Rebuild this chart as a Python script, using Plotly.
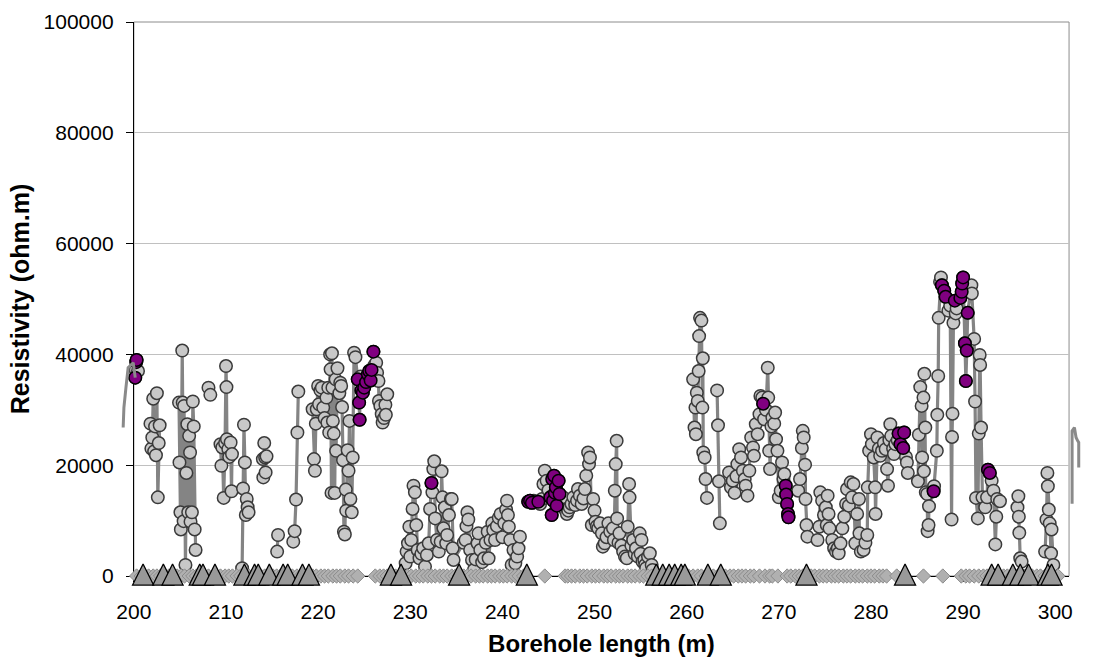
import plotly.graph_objects as go

# ---------------- data ----------------
# borehole length (m) and resistivity (kohm.m); None = gap in the measured series
grey_x = [
    200.15, 200.2, 200.3, 200.45, None,
    201.8, 201.9, 202.0, 202.1, 202.2, 202.3, 202.4, 202.5, 202.6, 202.7, 202.8, None,
    204.9, 204.95, 205.05, 205.1, 205.25, 205.3, 205.4, 205.45, 205.6, 205.7, 205.8, 205.9, 206.0,
    206.1, 206.15, 206.3, 206.4, 206.5, 206.6, 206.7, None,
    208.1, 208.3, None,
    209.4, 209.5, 209.6, 209.75, 209.9, 210.0, 210.05, 210.1, 210.25, 210.35, 210.5, 210.6, 210.65, None,
    211.75, 211.85, 211.95, 212.05, 212.15, 212.25, 212.35, 212.45, None,
    214.0, 214.05, 214.15, 214.25, 214.3, 214.4, None,
    215.55, 215.65, None,
    217.3, 217.45, 217.6, 217.75, 217.85, None,
    219.4, 219.55, 219.65, 219.75, 219.85, 220.0, 220.1, 220.25, 220.4, 220.55, 220.7, 220.9, 221.0,
    221.1, 221.2, 221.3, 221.35, 221.45, 221.5, 221.55, 221.6, 221.7, 221.8, 221.9, 221.95, 222.1,
    222.3, 222.4, 222.5, 222.6, 222.7, 222.8, 222.9, 223.0, 223.05, 223.2, 223.3, 223.4, 223.5,
    223.65, 223.75, 223.9, 224.05, 224.3, 224.45, 224.5, 224.6, 224.7, 224.85, 225.0, 225.2, 225.4,
    225.55, 225.7, 225.8, 226.0, 226.1, 226.3, 226.4, 226.55, 226.6, 226.75, 226.9, 227.0, 227.15,
    227.3, 227.35, 227.5, None,
    229.5, 229.6, 229.75, 229.9, 230.0, 230.1, 230.25, 230.35, 230.5, 230.65, 230.8, 231.0, 231.2,
    231.4, 231.6, 231.8, 232.0, 232.15, 232.3, 232.4, 232.5, 232.6, 232.7, 232.9, 233.1, 233.3,
    233.4, 233.5, 233.6, 233.75, 233.9, 234.0, 234.2, 234.4, 234.5, 234.6, 234.7,
    235.8, 236.0, 236.1, 236.2, 236.3, 236.5, 236.7, 236.9, 237.1, 237.3, 237.4, 237.6, 237.8,
    238.0, 238.2, 238.4, 238.5, 238.7, 238.9, 239.0, 239.2, 239.4, 239.6, 239.8, 240.0, 240.2,
    240.4, 240.5, 240.6, 240.7, 240.85, 241.0, 241.2, 241.4, 241.6, 241.75, 241.9, None,
    242.8, 243.0, 243.2, 243.4, 243.6, 243.9, 244.1, 244.3, 244.45, 244.6, 244.8, 245.0, 245.2,
    245.35, 245.5, 245.6, 245.8, 245.9, 246.1, 246.2, 246.4, 246.6, 246.8, 247.0, 247.15, 247.3,
    247.5, 247.7, 247.9, 248.1, 248.2, 248.4, 248.6, 248.8, 248.95, 249.1, 249.3, 249.4, 249.5,
    249.7, 249.85, 250.0, 250.1, 250.25, 250.4, 250.6, 250.8, 250.9, 251.1, 251.3, 251.5, 251.7,
    252.0, 252.1, 252.2, 252.3, 252.4, 252.45, 252.6, 252.7, 252.9, 253.1, 253.3, 253.5, 253.6,
    253.75, 253.8, 254.0, 254.2, 254.35, 254.5, 254.7, 254.9, 255.0, 255.1, 255.2, 255.4, 255.5,
    255.6, 255.8, 256.0, 256.2, 256.3, None,
    260.7, 260.85, 260.95, 261.0, 261.1, 261.2, 261.3, 261.35, 261.45, 261.6, 261.7, 261.75, 261.8,
    261.95, 262.05, 262.2, None,
    263.3, 263.4, 263.5, 263.6, None,
    264.6, 264.8, 265.0, 265.2, 265.4, 265.5, 265.7, 265.9, 266.1, 266.3, 266.4, 266.6, 266.8,
    267.0, 267.2, 267.3, 267.5, 267.7, 267.9, 268.0, 268.2, 268.3, 268.4, 268.6, 268.8, 268.85,
    268.95, 269.05, 269.2, 269.3, 269.5, 269.6, 269.7, 269.85, 270.0, 270.2, 270.35, 270.5, 270.6,
    270.75, 270.8, 270.9, 271.0, 271.05, None,
    272.1, 272.3, 272.5, 272.6, 272.7, 272.85, 272.9, 273.0, 273.1, None,
    274.2, 274.4, 274.5, 274.7, 274.9, 275.1, 275.2, 275.3, 275.4, 275.5, 275.8, 276.0, 276.2,
    276.4, 276.5, 276.7, 276.9, 277.1, 277.3, 277.4, 277.6, 277.8, 277.95, 278.1, 278.3, 278.5,
    278.7, 278.75, 278.9, 279.2, 279.4, 279.6, 279.65, 279.8, 280.0, 280.1, 280.3, 280.45, 280.5,
    280.7, 280.85, 281.0, 281.2, 281.4, 281.6, 281.75, 281.85, 282.0, 282.1, 282.2, 282.4, 282.5,
    282.65, 282.9, 283.0, 283.2, 283.5, 283.6, 283.8, 283.9, 284.0, None,
    285.1, 285.2, 285.35, 285.5, 285.55, 285.7, 285.75, 285.8, 285.9, 285.95, 286.1, 286.15, 286.25,
    286.3, 286.8, 286.85, 287.15, 287.2, 287.3, 287.35, 287.5, 287.6, 287.7, 287.95, 288.1, 288.4,
    288.6, 288.75, 288.8, 288.85, 288.95, 289.1, 289.2, 289.3, 289.7, 289.85, 289.9, 290.0, 290.2,
    290.3, 290.4, 290.5, 290.9, 290.95, 291.2, 291.3, 291.4, 291.6, 291.7, 291.8, 291.85, 291.95,
    292.1, 292.4, 292.6, 292.7, 292.9, 293.1, 293.3, 293.5, 293.6, 293.7, 294.0, None,
    295.9, 296.0, 296.05, 296.1, 296.2, 296.35, None,
    298.9, 299.05, 299.15, 299.2, 299.3, 299.4, 299.55, 299.6, 299.8,
]
grey_y_k = [
    35.8, 37.2, 39.0, 37.0, None,
    27.5, 23.0, 25.0, 32.0, 22.5, 27.0, 21.8, 33.0, 14.2, 24.0, 27.2, None,
    31.3, 20.5, 11.5, 8.4, 40.7, 31.3, 9.9, 30.7, 2.0, 18.6, 27.4, 11.5, 25.3,
    22.3, 9.8, 11.5, 31.5, 27.0, 8.4, 4.7, None,
    34.0, 32.7, None,
    23.8, 19.9, 23.2, 14.1, 24.0, 37.9, 34.1, 24.7, 22.9, 21.5, 24.1, 15.3, 22.0, None,
    1.4, 15.8, 27.3, 20.5, 11.0, 13.9, 12.4, 11.5, None,
    21.1, 17.8, 24.0, 21.4, 18.7, 21.6, None,
    4.4, 7.4, None,
    6.2, 8.1, 13.8, 25.9, 33.3, None,
    30.1, 21.1, 19.0, 27.5, 30.1, 34.3, 31.0, 33.5, 34.0, 30.4, 28.5, 32.2, 27.7,
    34.0, 25.9, 40.0, 37.3, 15.0, 40.2, 34.0, 28.0, 25.7, 15.0, 35.5, 22.6, 37.5,
    33.0, 34.9, 34.3, 30.5, 20.9, 8.0, 7.5, 15.6, 11.8, 22.7, 19.0, 28.0, 13.9,
    11.5, 21.4, 40.3, 39.5, 35.5, 31.3, 28.2, 36.0, 33.5, 33.1, 34.0, 35.0, 36.4,
    37.0, 35.3, 37.2, 40.5, 38.0, 38.5, 36.7, 35.2, 31.6, 30.7, 29.2, 27.7, 28.5,
    30.9, 29.1, 32.8, None,
    2.3, 4.4, 5.9, 8.9, 3.5, 6.5, 12.1, 16.3, 15.1, 9.2, 4.7, 3.2, 4.0,
    5.0, 1.7, 3.8, 5.9, 12.1, 16.8, 15.1, 19.3, 20.7, 10.4, 6.5, 4.4, 6.2,
    18.9, 14.2, 8.6, 12.4, 5.9, 7.4, 11.0, 13.9, 13.9, 5.0, 2.9,
    6.0, 6.5, 9.0, 11.5, 10.2, 4.7, 2.9, 1.1, 3.0, 5.9, 7.7, 4.7, 2.5,
    3.2, 6.0, 8.0, 3.2, 6.5, 9.5, 8.3, 6.5, 9.0, 10.5, 11.2, 7.0, 9.5,
    12.0, 13.6, 11.0, 8.9, 6.5, 2.0, 4.7, 2.3, 3.5, 5.0, 7.1, None,
    13.4, 13.6, 13.2, 13.6, 13.4, 13.4, 13.0, 13.9, 16.6, 19.0, 17.2, 15.5, 14.2,
    11.0, 13.6, 18.1, 16.0, 12.7, 17.2, 14.8, 13.0, 14.2, 12.0, 11.2, 11.8, 12.4,
    13.0, 14.2, 12.8, 13.6, 15.7, 14.5, 13.0, 14.0, 15.7, 18.1, 22.3, 20.2, 21.4,
    9.2, 13.9, 11.8, 9.8, 9.0, 8.6, 9.5, 7.7, 5.3, 5.9, 7.0, 9.5, 8.0,
    8.6, 6.5, 15.4, 20.2, 24.4, 10.4, 6.0, 7.7, 5.5, 4.4, 3.5, 3.2, 8.9,
    16.6, 14.2, 5.5, 6.5, 4.0, 5.0, 3.5, 7.7, 4.0, 6.5, 2.6, 2.9, 2.0,
    1.4, 3.5, 4.1, 2.0, 1.1, None,
    35.5, 26.8, 30.4, 25.6, 33.1, 31.6, 37.0, 43.3, 46.6, 46.1, 30.4, 39.3, 22.3,
    21.4, 17.5, 14.1, None,
    33.5, 27.2, 17.1, 9.5, None,
    18.7, 16.0, 17.2, 15.0, 18.0, 20.2, 22.9, 21.4, 19.0, 17.5, 16.3, 14.5, 19.0,
    25.0, 23.2, 21.7, 27.4, 25.6, 29.2, 32.5, 32.2, 31.1, 28.3, 30.0, 37.6, 32.2,
    22.6, 19.3, 27.0, 28.6, 27.5, 29.5, 24.7, 22.6, 14.2, 15.4, 20.5, 17.5, 18.4,
    16.3, 14.7, 13.0, 11.2, 10.6, None,
    15.4, 17.5, 23.1, 26.2, 25.0, 20.1, 13.9, 9.2, 7.1, None,
    6.5, 8.9, 15.1, 13.6, 11.0, 12.4, 9.2, 14.5, 11.2, 8.6, 6.5, 5.0, 4.4,
    5.0, 4.1, 5.9, 8.6, 10.7, 13.0, 15.7, 12.7, 16.9, 14.2, 16.6, 5.9, 11.2,
    13.9, 7.7, 4.4, 4.7, 6.0, 7.4, 16.0, 22.6, 25.6, 23.8, 21.4, 16.0, 11.2,
    25.0, 23.0, 21.7, 22.6, 24.0, 22.9, 19.3, 16.3, 24.5, 27.4, 25.3, 23.0, 22.0,
    23.8, 24.5, 25.7, 23.8, 23.1, 25.9, 21.5, 20.5, 18.6, None,
    17.1, 25.5, 34.1, 30.7, 21.4, 32.2, 18.9, 36.5, 26.8, 15.1, 14.8, 8.1, 9.2,
    12.6, 15.3, 16.2, 22.6, 29.1, 36.1, 46.6, 53.1, 53.9, 52.5, 51.5, 50.4, 47.9,
    48.8, 10.2, 25.1, 29.3, 45.7, 49.7, 47.4, 48.3, 50.2, 51.3, 52.8, 53.9, 42.0,
    35.2, 40.7, 47.5, 52.5, 51.0, 42.8, 31.5, 14.1, 10.4, 25.7, 39.9, 38.1, 26.8,
    14.2, 12.4, 14.2, 19.2, 18.6, 17.2, 15.4, 5.7, 10.7, 13.9, 13.5, None,
    12.4, 14.4, 10.7, 7.8, 3.2, 2.6, None,
    4.4, 10.2, 18.6, 16.2, 12.0, 9.5, 4.1, 8.4, 2.0,
]

# highlighted (purple) readings
purple_x = [200.15, 200.25, 200.3,
            224.3, 224.45, 224.5, 224.7, 224.85, 225.0, 225.2, 225.4, 225.55, 225.7, 225.8, 226.0,
            232.3,
            242.8, 243.0, 243.2, 243.9,
            245.2, 245.35, 245.4, 245.5, 245.6, 245.7, 245.8, 245.9, 246.1, 246.2,
            268.3,
            270.75, 270.8, 270.9, 271.0, 271.05,
            283.0, 283.2, 283.5, 283.6,
            286.8,
            287.7, 287.95, 288.1, 289.1, 289.7, 289.85, 289.9, 290.0, 290.2, 290.3, 290.4, 290.5,
            292.7, 292.9]
purple_y_k = [35.8, 38.6, 39.0,
              35.5, 31.3, 28.2, 33.5, 33.1, 34.0, 35.0, 36.4, 37.0, 35.3, 37.2, 40.5,
              16.8,
              13.4, 13.6, 13.2, 13.4,
              14.2, 11.0, 17.5, 13.6, 18.1, 15.0, 16.0, 12.7, 17.2, 14.8,
              31.1,
              16.3, 14.7, 13.0, 11.2, 10.6,
              25.7, 23.8, 23.1, 25.9,
              15.3,
              52.5, 51.5, 50.4, 49.7, 50.2, 51.3, 52.8, 53.9, 42.0, 35.2, 40.7, 47.5,
              19.2, 18.6]

# parts of the logged curve lying just outside the plotted depth window
edge_left_x = [198.84, 198.92, 199.14, 199.38, 199.93, 200.15]
edge_left_y_k = [26.8, 30.4, 34.0, 37.6, 38.5, 35.8]
edge_right_x = [301.83, 301.83, 302.08, 302.26, 302.44, 302.55, 302.55]
edge_right_y_k = [13.05, 26.2, 26.8, 25.0, 24.4, 24.1, 19.6]

# sample positions along the borehole (zero-resistivity markers)
diamond_x = [
    199.9, 200.3, 200.8, 201.2, 201.6, 202.1, 202.5, 202.9, 203.4, 203.8, 204.2, 204.7, 205.1,
    205.5, 206.0, 206.4, 206.8, 207.3, 207.7, 208.1, 208.6, 209.0, 209.4, 209.9, 210.3, 210.7,
    211.2, 211.6, 212.0, 212.5, 212.9, 213.3, 213.8, 214.2, 214.6, 215.1, 215.5, 215.9, 216.4,
    216.8, 217.2, 217.7, 218.1, 218.5, 219.0, 219.4, 219.8, 220.3, 220.7, 221.1, 221.6, 222.0,
    222.4, 222.9, 223.3, 223.8, 224.3,
    226.2, 226.7, 227.1, 227.5, 228.0, 228.4, 228.8, 229.3, 229.7, 230.1, 230.6, 231.0, 231.4,
    231.9, 232.3, 232.7, 233.2, 233.6, 234.0, 234.5, 234.9, 235.3, 235.8, 236.2, 236.6, 237.1,
    237.5, 237.9, 238.4, 238.8, 239.2, 239.7, 240.1, 240.5, 241.0, 241.4, 241.8, 242.3,
    244.6,
    246.8, 247.1, 247.5, 247.9, 248.4, 248.8, 249.2, 249.7, 250.1, 250.5, 251.0, 251.4, 251.8,
    252.3, 252.7, 253.1, 253.6, 254.0, 254.4, 254.9, 255.3, 255.8,
    256.2, 256.7, 257.1, 257.6, 258.0, 258.4, 258.9, 259.3, 259.8, 260.2, 260.7,
    261.2, 261.6, 262.1, 262.5, 262.9, 263.4, 263.8, 264.2, 264.7, 265.1, 265.6, 266.0, 266.4,
    266.9, 267.3, 267.9, 268.5, 269.0, 269.3, 269.9,
    270.9, 271.3, 271.8, 272.2, 272.6, 273.1, 273.5, 273.9, 274.4, 274.8, 275.2, 275.7, 276.1,
    276.5, 277.0, 277.4, 277.8, 278.3, 278.7, 279.1, 279.6, 280.0, 280.4, 280.9, 281.3, 281.7,
    282.8, 285.7, 287.8,
    289.8, 290.3, 290.7, 291.2, 291.7, 292.2,
    292.6, 293.0, 293.5, 293.9, 294.4, 294.8, 295.3, 295.7, 296.2, 296.6, 297.1, 297.5, 298.0,
    298.4, 298.9, 299.3, 299.8, 300.3,
]
diamond_y = [0] * len(diamond_x)

# fracture / event positions (triangles)
triangle_x = [201.0, 203.2, 204.2, 207.15, 207.5, 208.8, 212.0, 213.1, 213.5, 214.7, 216.2, 216.7,
              218.3, 219.0, 227.9, 229.0, 235.3, 242.65,
              256.7, 257.4, 258.1, 258.7, 259.4, 259.8, 262.3, 263.7, 273.0, 283.7,
              293.1, 293.8, 295.4, 296.2, 297.1, 299.2, 299.6]
triangle_y = [0] * len(triangle_x)

x_ticks = [200, 210, 220, 230, 240, 250, 260, 270, 280, 290, 300]
y_ticks = [0, 20000, 40000, 60000, 80000, 100000]

# ---------------- layout constants ----------------
W, H = 1096, 666
ML, MR, MT, MB = 100, 10, 19, 90
PLOT_L, PLOT_R = 134, 1073
X_MIN, X_MAX = 200, 301.5
Y_MIN, Y_MAX = 0, 100000
paper_w = W - ML - MR
dom0 = (PLOT_L - ML) / paper_w
dom1 = (PLOT_R - ML) / paper_w
pxm = (PLOT_R - PLOT_L) / (X_MAX - X_MIN)
x2_range = [X_MIN - (PLOT_L - ML) / pxm, X_MAX + (W - MR - PLOT_R) / pxm]
plot_h = H - MT - MB
tri_shift = 12 * (Y_MAX - Y_MIN) / plot_h  # triangles: apex above the zero line

FONT = "Liberation Sans, Arial, sans-serif"

def k(v):
    return [None if a is None else a * 1000 for a in v]

fig = go.Figure()

fig.add_trace(go.Scatter(
    x=edge_left_x, y=k(edge_left_y_k), xaxis="x2", yaxis="y2", mode="lines",
    line=dict(color="#8a8a8a", width=3), hoverinfo="skip", showlegend=False))
fig.add_trace(go.Scatter(
    x=edge_right_x, y=k(edge_right_y_k), xaxis="x2", yaxis="y2", mode="lines",
    line=dict(color="#8a8a8a", width=3), hoverinfo="skip", showlegend=False))

fig.add_trace(go.Scatter(
    x=grey_x, y=k(grey_y_k), mode="lines+markers", connectgaps=False,
    line=dict(color="#848484", width=3.2),
    marker=dict(symbol="circle", size=12.5, color="#c8c8c8", line=dict(color="#3a3a3a", width=1.5)),
    cliponaxis=False, showlegend=False))

fig.add_trace(go.Scatter(
    x=purple_x, y=k(purple_y_k), mode="markers",
    marker=dict(symbol="circle", size=12.5, color="#800080", line=dict(color="#000000", width=1.5)),
    cliponaxis=False, showlegend=False))

fig.add_trace(go.Scatter(
    x=diamond_x, y=diamond_y, mode="markers",
    marker=dict(symbol="diamond", size=11, color="#b0b0b0", line=dict(color="#8c8c8c", width=1)),
    cliponaxis=False, showlegend=False))

fig.add_trace(go.Scatter(
    x=triangle_x, y=triangle_y, mode="markers", yaxis="y3",
    marker=dict(symbol="arrow-up", size=21, color="#999999", line=dict(color="#000000", width=1.3)),
    cliponaxis=False, showlegend=False))

fig.add_shape(type="rect", xref="x domain", yref="y domain", x0=0, x1=1, y0=0, y1=1,
              line=dict(color="#8c8c8c", width=1), layer="below")

fig.update_layout(
    width=W, height=H,
    margin=dict(l=ML, r=MR, t=MT, b=MB, pad=0),
    paper_bgcolor="white", plot_bgcolor="rgba(0,0,0,0)",
    font=dict(family=FONT, color="black", size=21),
    xaxis=dict(domain=[dom0, dom1], range=[X_MIN, X_MAX], tickvals=x_ticks,
               showgrid=False, zeroline=False, showline=True, linecolor="black", linewidth=1,
               ticks="outside", ticklen=5, tickcolor="black", tickfont=dict(size=21),
               ticklabelstandoff=12, layer="below traces", anchor="y",
               title=dict(text="Borehole length (m)", font=dict(size=24, weight="bold"), standoff=12)),
    yaxis=dict(domain=[0, 1], range=[Y_MIN, Y_MAX], tickvals=y_ticks, tickformat="d",
               showgrid=True, gridcolor="#c0c0c0", gridwidth=1, zeroline=False,
               showline=True, linecolor="black", linewidth=1,
               ticks="outside", ticklen=7, tickcolor="black", tickfont=dict(size=21),
               ticklabelstandoff=8, layer="below traces", anchor="x",
               title=dict(text="Resistivity (ohm.m)", font=dict(size=25, weight="bold"), standoff=6)),
    xaxis2=dict(domain=[0, 1], range=x2_range, visible=False, anchor="y2"),
    yaxis2=dict(domain=[0, 1], range=[Y_MIN, Y_MAX], visible=False, anchor="x2"),
    yaxis3=dict(overlaying="y", range=[Y_MIN - tri_shift, Y_MAX - tri_shift], visible=False,
                anchor="x"),
    hovermode=False,
)

fig.write_html("out.html", config={"displayModeBar": False},
               post_script="document.body.style.margin='0px';")
